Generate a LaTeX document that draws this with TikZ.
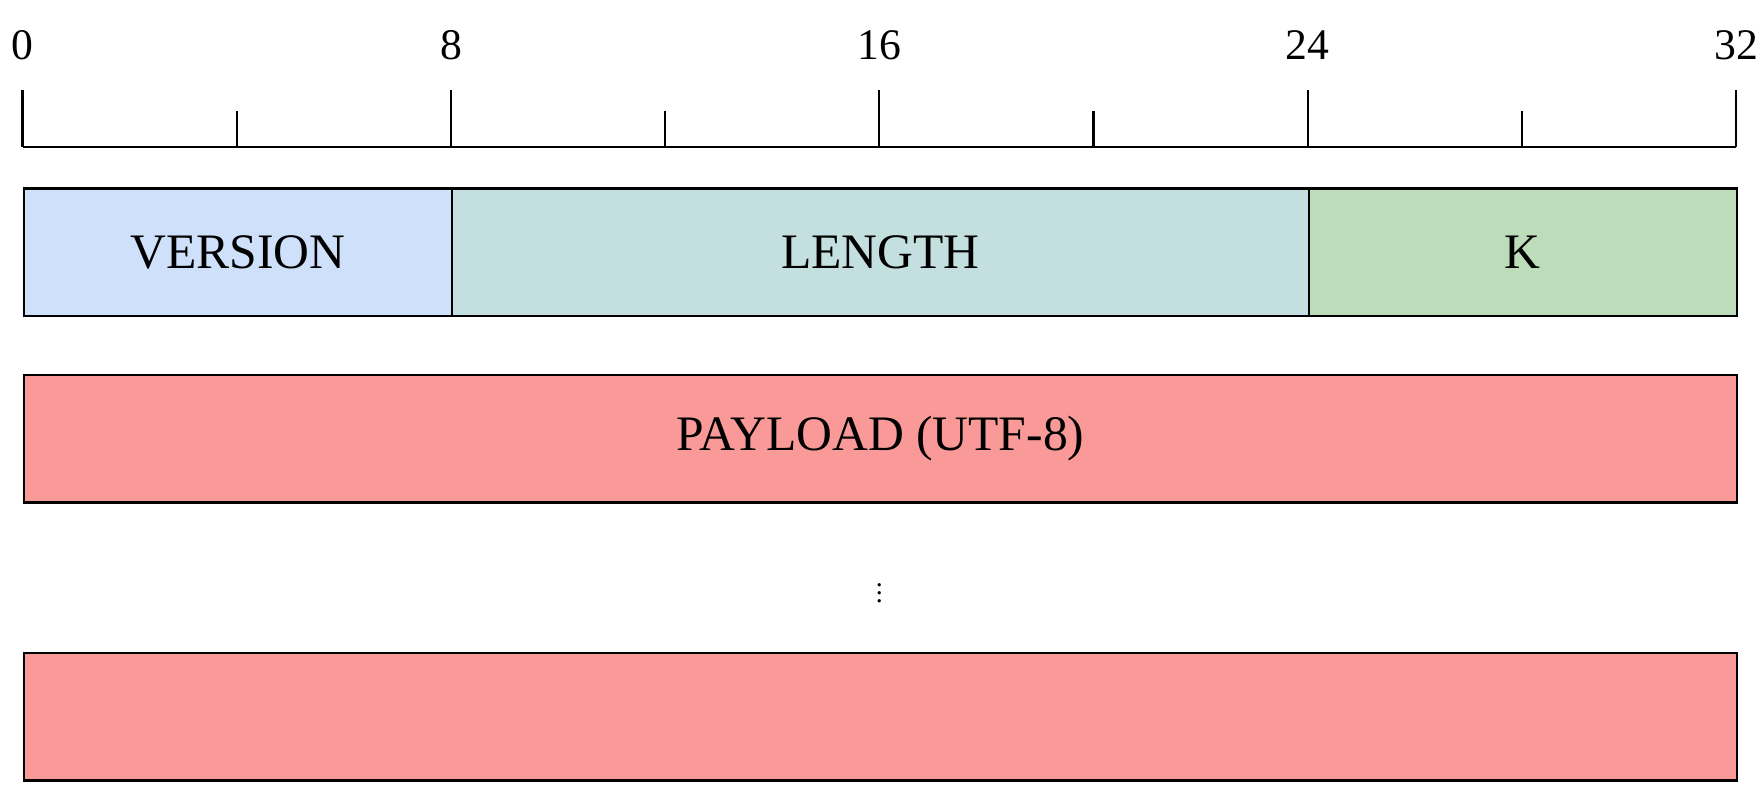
\documentclass[tikz,border=0pt]{standalone}
\usepackage{fontspec}
\setmainfont{Liberation Serif}
\usetikzlibrary{positioning}

\definecolor{versionblue}{HTML}{CFE0FA}
\definecolor{lengthteal}{HTML}{C4DFDF}
\definecolor{kgreen}{HTML}{BDDCB9}
\definecolor{payloadred}{HTML}{F99A98}

\tikzset{
    field/.style={draw, line width=1.1pt, inner sep=0pt, anchor=north west,
        minimum height=2.26cm, font=\fontsize{25}{30}\selectfont},
    bitlabel/.style={font=\fontsize{22}{26}\selectfont, inner sep=0pt}
}

\begin{document}
\begin{tikzpicture}[x=0.02cm, y=-0.02cm]

    \useasboundingbox (0,0) rectangle (1560,700);

    % ruler
    \coordinate (r0) at (20,130);
    \coordinate (r32) at (1537,130);
    \draw[line width=1.1pt] (r0) -- (r32);
    \foreach \b in {0,4,...,32} {
        \coordinate (t\b) at ({20+\b*47.40625},130);
    }
    \foreach \b in {4,12,20,28} {
        \draw[line width=1.1pt] (t\b) -- ++(0,-32);
    }
    \foreach \b in {0,8,16,24,32} {
        \draw[line width=1.1pt] (t\b) -- ++(0,-50);
        \node[bitlabel] (l\b) at ([yshift=1.8cm]t\b) {\b};
    }

    % header fields
    \node[field, fill=versionblue, minimum width=7.585cm] (version) at (20,166) {VERSION};
    \node[field, fill=lengthteal, minimum width=15.17cm] (length) at (t8 |- version.north) {LENGTH};
    \node[field, fill=kgreen, minimum width=7.585cm] (k) at (t24 |- version.north) {K};

    % payload
    \node[field, fill=payloadred, minimum width=30.34cm] (payload) at (20,331) {PAYLOAD (UTF-8)};
    \node[font=\fontsize{14}{16}\selectfont] (dots) at (778.5,520) {$\vdots$};
    \node[field, fill=payloadred, minimum width=30.34cm] (payloadend) at (20,577) {};

\end{tikzpicture}
\end{document}
